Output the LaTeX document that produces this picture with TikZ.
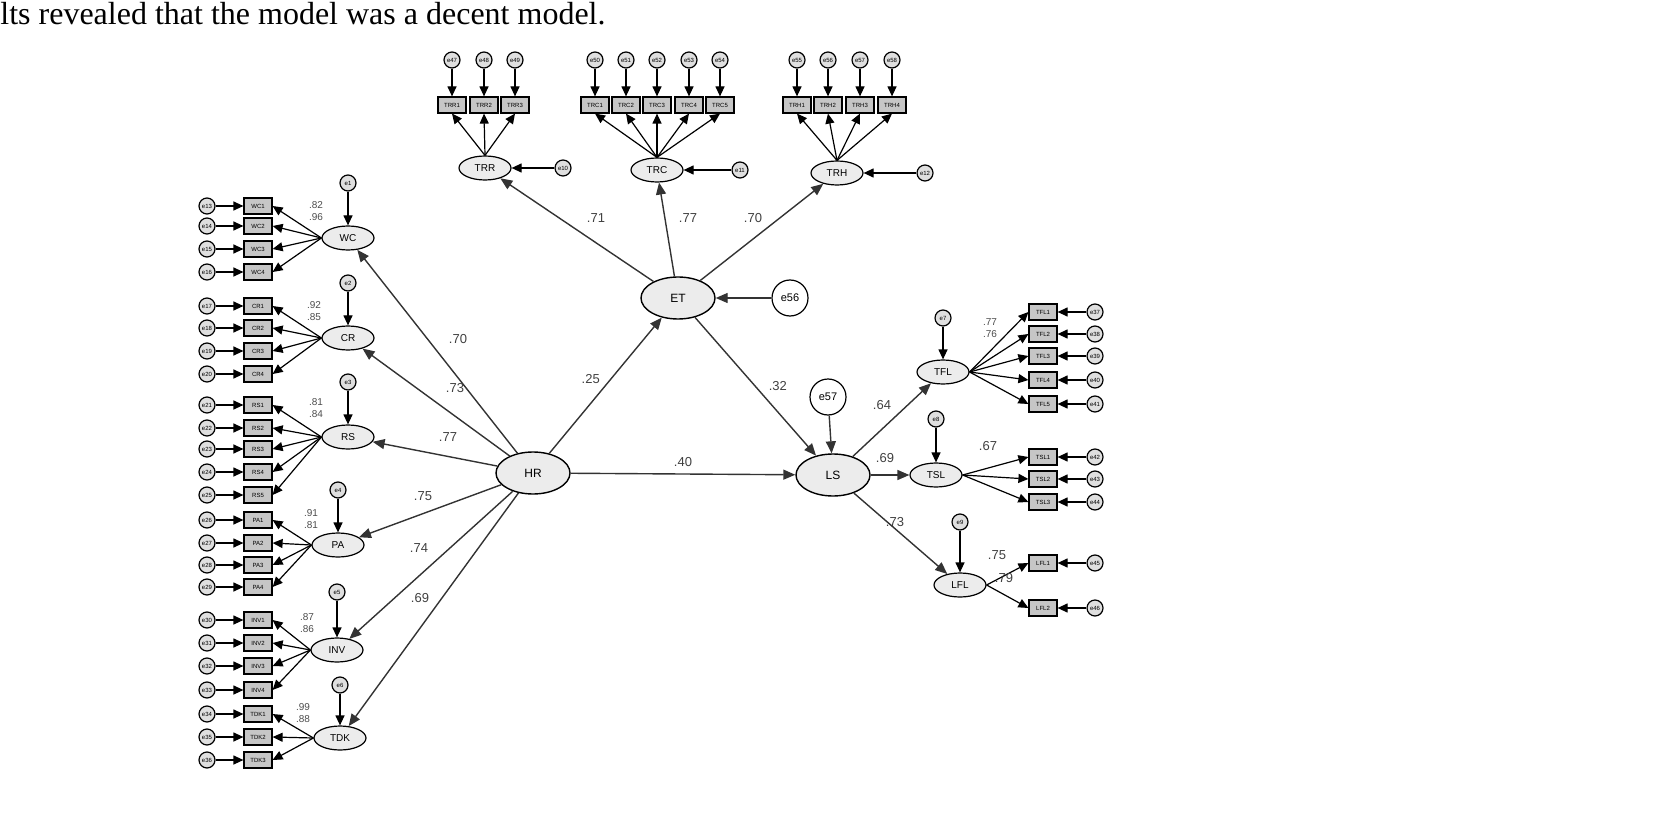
\documentclass[tikz,border=0pt]{standalone}
\usetikzlibrary{shapes.geometric,arrows.meta}
\usepackage{fontspec}
\setmainfont{Liberation Serif}
\setsansfont{Liberation Sans}
\newcounter{ec}
\begin{document}
\begin{tikzpicture}[x=0.5pt,y=-0.5pt,
  big/.style={ellipse,draw,fill=gray!15,line width=0.7pt,minimum width=37pt,minimum height=21pt,inner sep=0pt,font=\sffamily\fontsize{6}{6}\selectfont},
  lat/.style={ellipse,draw,fill=gray!15,line width=0.6pt,minimum width=26pt,minimum height=12pt,inner sep=0pt,font=\sffamily\fontsize{5}{5}\selectfont},
  box/.style={rectangle,draw,fill=gray!45,line width=0.6pt,minimum width=14pt,minimum height=8pt,inner sep=0pt,font=\sffamily\fontsize{3}{3}\selectfont},
  err/.style={circle,draw,fill=gray!25,line width=0.6pt,minimum size=8pt,inner sep=0pt,font=\sffamily\fontsize{3}{3}\selectfont},
  bigerr/.style={circle,draw,fill=white,line width=0.6pt,minimum size=18pt,inner sep=0pt,font=\sffamily\fontsize{5.5}{5.5}\selectfont},
  ar/.style={-{Triangle[length=6pt,width=5pt]},line width=0.7pt,draw=black!80},
  far/.style={-{Triangle[length=5pt,width=4.5pt]},line width=0.6pt},
  lab/.style={font=\sffamily\fontsize{6.5}{7}\selectfont,text=black!75},
  slab/.style={font=\sffamily\fontsize{5}{5}\selectfont,text=black!70}]
\useasboundingbox (0,0) rectangle (1657,823);
\node[anchor=west,inner sep=0pt,font=\fontsize{16}{18}\selectfont] (txt) at (0,14) {lts revealed that the model was a decent model.};
% structural
\node[big] (HR) at (533,473) {HR};
\node[big] (ET) at (678,298) {ET};
\node[big] (LS) at (833,475) {LS};
\node[bigerr] (e56) at (790,298) {e56};
\node[bigerr] (e57) at (828,397) {e57};
\draw[ar] (e56) -- (ET);
\draw[ar] (e57) -- (LS);
\draw[ar] (HR) -- node[lab,pos=.55,left=2pt]{.25} (ET);
\draw[ar] (ET) -- node[lab,pos=.5,right=3pt]{.32} (LS);
\draw[ar] (HR) -- node[lab,pos=.5,above]{.40} (LS);
% left latents
\foreach \n/\x/\y/\ey/\lx/\ly/\v in {WC/348/238/183/458/339/.70, CR/348/338/283/455/388/.73, RS/348/437/382/448/437/.77, PA/338/545/490/423/496/.75, INV/337/650/592/419/548/.74, TDK/340/738/685/420/598/.69}{
  \node[lat] (\n) at (\x,\y) {\n};
  \stepcounter{ec}
  \node[err] (\n-d) at (\x,\ey) {e\arabic{ec}};
  \draw[far] (\n-d) -- (\n);
  \draw[ar] (HR) -- (\n);
  \node[lab] (\n-l) at (\lx,\ly) {\v};
}
% right latents
\foreach \n/\x/\y/\ey/\lx/\ly/\v in {TFL/943/372/318/882/405/.64, TSL/936/475/419/885/458/.69, LFL/960/585/522/895/522/.73}{
  \node[lat] (\n) at (\x,\y) {\n};
  \stepcounter{ec}
  \node[err] (\n-d) at (\x,\ey) {e\arabic{ec}};
  \draw[far] (\n-d) -- (\n);
  \draw[ar] (LS) -- (\n);
  \node[lab] (\n-l) at (\lx,\ly) {\v};
}
% top latents
\foreach \n/\x/\y/\ex/\lx/\ly/\v in {TRR/485/168/563/596/218/.71, TRC/657/170/740/688/218/.77, TRH/837/173/925/753/218/.70}{
  \node[lat] (\n) at (\x,\y) {\n};
  \stepcounter{ec}
  \node[err] (\n-d) at (\ex,\y) {e\arabic{ec}};
  \draw[far] (\n-d) -- (\n);
  \draw[ar] (ET) -- (\n);
  \node[lab] (\n-l) at (\lx,\ly) {\v};
}
% left indicators
\foreach \n/\ys in {WC/{206,226,249,272}, CR/{306,328,351,374}, RS/{405,428,449,472,495}, PA/{520,543,565,587}, INV/{620,643,666,690}, TDK/{714,737,760}}{
  \foreach \yy [count=\i] in \ys {
    \stepcounter{ec}
    \node[box] (\n-b\i) at (258,\yy) {\n\i};
    \node[err] (\n-e\i) at (207,\yy) {e\arabic{ec}};
    \draw[far] (\n-e\i) -- (\n-b\i);
    \draw[far] (\n.west) -- (\n-b\i.east);
  }
}
% right indicators
\foreach \n/\ys in {TFL/{312,334,356,380,404}, TSL/{457,479,502}, LFL/{563,608}}{
  \foreach \yy [count=\i] in \ys {
    \stepcounter{ec}
    \node[box] (\n-b\i) at (1043,\yy) {\n\i};
    \node[err] (\n-e\i) at (1095,\yy) {e\arabic{ec}};
    \draw[far] (\n-e\i) -- (\n-b\i);
    \draw[far] (\n.east) -- (\n-b\i.west);
  }
}
% top indicators
\foreach \n/\xs in {TRR/{452,484,515}, TRC/{595,626,657,689,720}, TRH/{797,828,860,892}}{
  \foreach \xx [count=\i] in \xs {
    \stepcounter{ec}
    \node[box] (\n-b\i) at (\xx,105) {\n\i};
    \node[err] (\n-e\i) at (\xx,60) {e\arabic{ec}};
    \draw[far] (\n-e\i) -- (\n-b\i);
    \draw[far] (\n.north) -- (\n-b\i.south);
  }
}
% small loading labels
\node[slab] (s1) at (316,205) {.82};
\node[slab] (s2) at (316,217) {.96};
\node[slab] (s3) at (314,305) {.92};
\node[slab] (s4) at (314,317) {.85};
\node[slab] (s5) at (316,402) {.81};
\node[slab] (s6) at (316,414) {.84};
\node[slab] (s7) at (311,513) {.91};
\node[slab] (s8) at (311,525) {.81};
\node[slab] (s9) at (307,617) {.87};
\node[slab] (s10) at (307,629) {.86};
\node[slab] (s11) at (303,707) {.99};
\node[slab] (s12) at (303,719) {.88};
\node[slab] (s13) at (990,322) {.77};
\node[slab] (s14) at (990,334) {.76};
\node[lab] (s15) at (988,446) {.67};
\node[lab] (s16) at (997,555) {.75};
\node[lab] (s17) at (1004,578) {.79};
\end{tikzpicture}
\end{document}
